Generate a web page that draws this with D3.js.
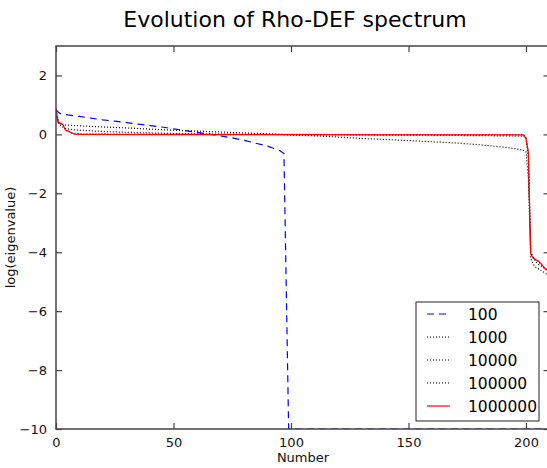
<!DOCTYPE html>
<html><head><meta charset="utf-8">
<script src="https://cdn.jsdelivr.net/npm/d3@7"></script>
<style>
html,body{margin:0;padding:0;background:#fff;}
svg{display:block;font-family:"DejaVu Sans",sans-serif;}
</style></head>
<body>
<svg id="c" width="547" height="468"></svg>
<script>
// ---- data ----
const title = "Evolution of Rho-DEF spectrum";
const xLabel = "Number";
const yLabel = "log(eigenvalue)";
const xTicks = [0, 50, 100, 150, 200];
const yTicks = [2, 0, -2, -4, -6, -8, -10];
const seriesNames = ["100", "1000", "10000", "100000", "1000000"];

const x100 = [0,1,2,5,10,15,20,25,30,35,40,45,50,55,60,65,70,75,80,85,90,95,97,98,99,209];
const y100 = [0.85,0.75,0.70,0.66,0.61,0.55,0.49,0.45,0.40,0.35,0.30,0.25,0.19,0.13,0.07,0.01,-0.05,-0.12,-0.20,-0.30,-0.40,-0.54,-0.65,-5.3,-10,-10];

const x1000 = [0,1,2,4,8,15,20,30,40,50,60,70,80,90,100,110,120,130,140,150,160,170,180,190,195,199,200,201,202,203,204,205,206,207,208,209];
const y1000 = [0.55,0.42,0.36,0.32,0.30,0.27,0.25,0.22,0.18,0.14,0.11,0.08,0.05,0.02,-0.02,-0.05,-0.09,-0.14,-0.17,-0.21,-0.25,-0.29,-0.35,-0.43,-0.48,-0.54,-0.58,-1.5,-4.2,-4.4,-4.5,-4.55,-4.6,-4.65,-4.7,-4.75];

const x10000 = [0,1,2,4,8,15,20,30,50,70,100,130,160,190,199,200,201,202,203,204,205,206,207,208,209];
const y10000 = [0.7,0.4,0.3,0.2,0.15,0.12,0.1,0.07,0.03,0.01,-0.01,-0.02,-0.03,-0.05,-0.06,-0.1,-0.8,-4.0,-4.15,-4.3,-4.4,-4.45,-4.5,-4.55,-4.6];

const x100000 = [0,1,2,3,4,5,7,10,30,100,150,199,200,201,202,203,204,205,206,207,208,209];
const y100000 = [0.82,0.4,0.36,0.3,0.15,0.1,0.04,0.02,0.01,0.0,-0.01,-0.01,-0.1,-0.6,-4.0,-4.2,-4.25,-4.3,-4.38,-4.45,-4.55,-4.62];

const x1000000 = [0,1,2,3,4,5,6,7,8,10,50,100,150,199,200,201,202,203,204,205,206,207,208,209];
const y1000000 = [0.85,0.42,0.38,0.32,0.15,0.12,0.08,0.03,0.01,0.0,-0.01,-0.01,-0.02,-0.02,-0.15,-0.6,-4.05,-4.2,-4.25,-4.28,-4.35,-4.45,-4.55,-4.6];

// ---- layout ----
const L = 56, R = 549.5, T = 46, B = 429;
const svg = d3.select("#c");
const x = d3.scaleLinear().domain([0, 210]).range([L, R]);
const y = d3.scaleLinear().domain([-10, 3]).range([B, T]);

svg.append("defs").append("clipPath").attr("id","clip")
  .append("rect").attr("x", L).attr("y", T).attr("width", R - L).attr("height", B - T);

const series = [
  {name: seriesNames[0], xs: x100, ys: y100, color: "#0000ff", dash: "7,5"},
  {name: seriesNames[1], xs: x1000, ys: y1000, color: "#000", dash: "1,2"},
  {name: seriesNames[2], xs: x10000, ys: y10000, color: "#000", dash: "1,2"},
  {name: seriesNames[3], xs: x100000, ys: y100000, color: "#000", dash: "1,2"},
  {name: seriesNames[4], xs: x1000000, ys: y1000000, color: "#ff0000", dash: null}
];

const line = d3.line().x(d => x(d[0])).y(d => y(d[1]));
const g = svg.append("g").attr("clip-path", "url(#clip)");
series.forEach(s => {
  const pts = s.xs.map((v, i) => [v, s.ys[i]]);
  g.append("path").datum(pts).attr("d", line)
    .attr("fill", "none").attr("stroke", s.color).attr("stroke-width", 1.2)
    .attr("stroke-dasharray", s.dash);
});

// ---- axes (ticks inward, all four sides) ----
const tl = 6;
const axisCol = "#444";
const axB = d3.axisBottom(x).tickValues(xTicks).tickSize(-tl).tickPadding(9).tickFormat(d3.format("d"));
const axT = d3.axisTop(x).tickValues(xTicks).tickSize(-tl).tickFormat("");
const axL = d3.axisLeft(y).tickValues(yTicks).tickSize(-tl).tickPadding(9).tickFormat(d => d < 0 ? "\u2212" + Math.abs(d) : d);
const axR = d3.axisRight(y).tickValues(yTicks).tickSize(-tl).tickFormat("");
function style(sel){
  sel.select(".domain").remove();
  sel.selectAll("line").attr("stroke", axisCol).attr("stroke-width", 1.2);
  sel.selectAll("text").attr("fill", "#111").style("font-size", "13px").style("font-family", "DejaVu Sans");
}
svg.append("g").attr("transform", `translate(0,${B})`).call(axB).call(style);
svg.append("g").attr("transform", `translate(0,${T})`).call(axT).call(style);
svg.append("g").attr("transform", `translate(${L},0)`).call(axL).call(style);
svg.append("g").attr("transform", `translate(${R},0)`).call(axR).call(style);

svg.append("rect").attr("x", L).attr("y", T).attr("width", R - L).attr("height", B - T)
  .attr("fill", "none").attr("stroke", axisCol).attr("stroke-width", 1.5);

// ---- labels ----
svg.append("text").attr("x", 295).attr("y", 27).attr("text-anchor", "middle")
  .style("font-size", "22px").attr("fill", "#000").text(title);
svg.append("text").attr("x", 303).attr("y", 462).attr("text-anchor", "middle")
  .style("font-size", "13px").attr("fill", "#111").text(xLabel);
svg.append("text").attr("transform", `translate(15,${(T + B) / 2}) rotate(-90)`).attr("text-anchor", "middle")
  .style("font-size", "13px").attr("fill", "#111").text(yLabel);

// ---- legend ----
const lg = svg.append("g");
lg.append("rect").attr("x", 416).attr("y", 302).attr("width", 123).attr("height", 119)
  .attr("fill", "#fff").attr("stroke", "#222").attr("stroke-width", 1);
series.forEach((s, i) => {
  const yy = 314 + i * 23;
  lg.append("line").attr("x1", 427).attr("x2", 450).attr("y1", yy).attr("y2", yy)
    .attr("stroke", s.color).attr("stroke-width", 1.2).attr("stroke-dasharray", s.dash);
  lg.append("text").attr("x", 468).attr("y", yy).attr("dy", "0.36em")
    .style("font-size", "15.5px").attr("fill", "#000").text(s.name);
});
</script>
</body></html>
